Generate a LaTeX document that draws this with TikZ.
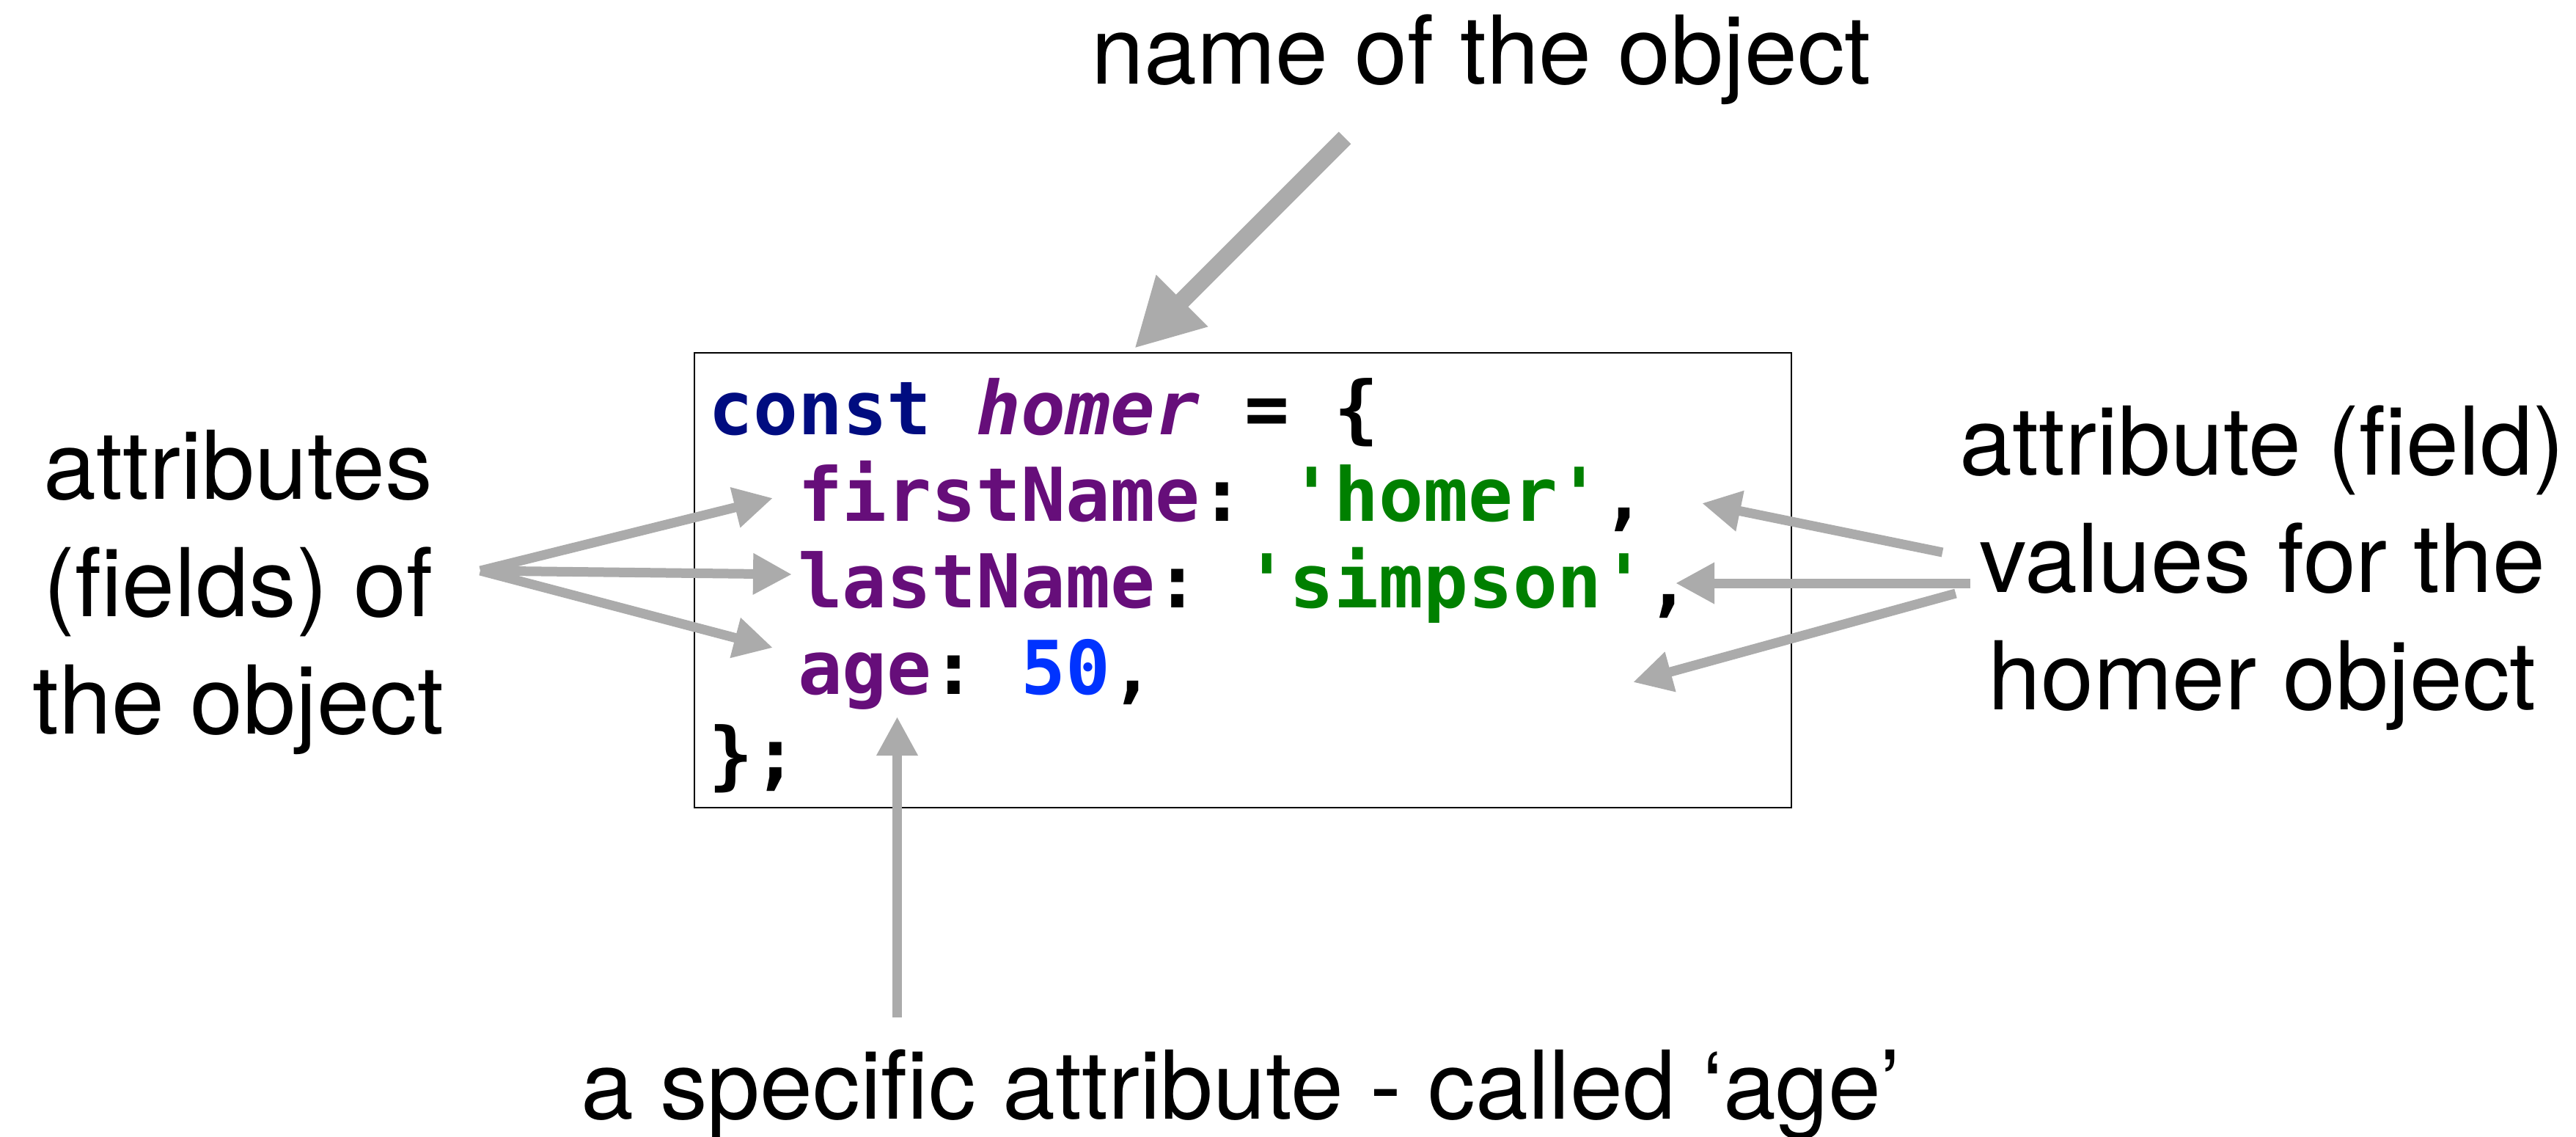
\documentclass[tikz,border=0pt]{standalone}
\usepackage{fontspec}
\setmainfont{TeX Gyre Heros}
\setmonofont{DejaVu Sans Mono}[ItalicFont={DejaVu Sans Mono Oblique},BoldFont={DejaVu Sans Mono Bold},BoldItalicFont={DejaVu Sans Mono Bold Oblique}]
\usetikzlibrary{arrows.meta}
\usetikzlibrary{positioning}
\definecolor{arrowgray}{HTML}{ABABAB}
\definecolor{kwblue}{HTML}{000C80}
\definecolor{fieldpurple}{HTML}{660E7A}
\definecolor{strgreen}{HTML}{008000}
\definecolor{numblue}{HTML}{0033FF}
\tikzstyle{note}=[inner sep=0pt,align=center,anchor=base,font=\fontsize{36.8}{45.5}\selectfont]
\tikzstyle{codeline}=[inner sep=0pt,anchor=base west,font=\ttfamily\bfseries\fontsize{28.8}{33.6}\selectfont]

\begin{document}
\begin{tikzpicture}[
  pointer/.style={draw=arrowgray,line width=0.13cm,-{Triangle[length=0.53cm,width=0.53cm]}},
  big pointer/.style={draw=arrowgray,line width=0.236cm,-{Triangle[length=0.92cm,width=0.93cm]}},
  codebox/.style={draw,line width=0.8pt,minimum width=14.96cm,minimum height=6.20cm,inner sep=0},
]
  \useasboundingbox (0,0) rectangle (35.13,-15.49);
  % the code
  \node[codebox] (box) at (16.95,-7.91) {};
  \node[codeline] (l1) at (9.655,-5.92) {\textcolor{kwblue}{const} \textcolor{fieldpurple}{\itshape homer} = \{};
  \node[codeline] (l2) at (10.873,-7.10) {\textcolor{fieldpurple}{firstName}: \textcolor{strgreen}{'homer'},};
  \node[codeline] (l3) at (10.873,-8.28) {\textcolor{fieldpurple}{lastName}: \textcolor{strgreen}{'simpson'},};
  \node[codeline] (l4) at (10.873,-9.46) {\textcolor{fieldpurple}{age}: \textcolor{numblue}{50},};
  \node[codeline] (l5) at (9.655,-10.64) {\};};

  % the notes (base = last line)
  \node[note] (name) at (20.20,-1.14) {name of the object};
  \node[note] (attrs) at (3.25,-10.00) {attributes\\(fields) of\\the object};
  \node[note] (vals) at (30.85,-9.67) {attribute (field)\\values for the\\homer object};
  \node[note] (spec) at (16.92,-15.25) {a specific attribute - called `age'};

  \coordinate (nametail) at (18.34,-1.88);
  \coordinate (nametip) at (15.47,-4.75);
  \coordinate (attrtail) at (6.55,-7.78);
  \coordinate (fn) at (10.54,-6.79);
  \coordinate (ln) at (10.80,-7.83);
  \coordinate (ag) at (10.54,-8.83);
  \coordinate (valtail1) at (26.49,-7.53);
  \coordinate (valtail2) at (26.87,-7.95);
  \coordinate (valtail3) at (26.67,-8.09);
  \coordinate (fnval) at (23.21,-6.86);
  \coordinate (lnval) at (22.85,-7.95);
  \coordinate (agval) at (22.27,-9.30);
  \coordinate (spectail) at (12.235,-13.87);
  \coordinate (spectip) at (12.235,-9.77);

  \draw[big pointer] (nametail) -- (nametip);
  \draw[pointer] (attrtail) -- (fn);
  \draw[pointer] (attrtail) -- (ln);
  \draw[pointer] (attrtail) -- (ag);
  \draw[pointer] (valtail1) -- (fnval);
  \draw[pointer] (valtail2) -- (lnval);
  \draw[pointer] (valtail3) -- (agval);
  \draw[pointer] (spectail) -- (spectip);
\end{tikzpicture}
\end{document}
